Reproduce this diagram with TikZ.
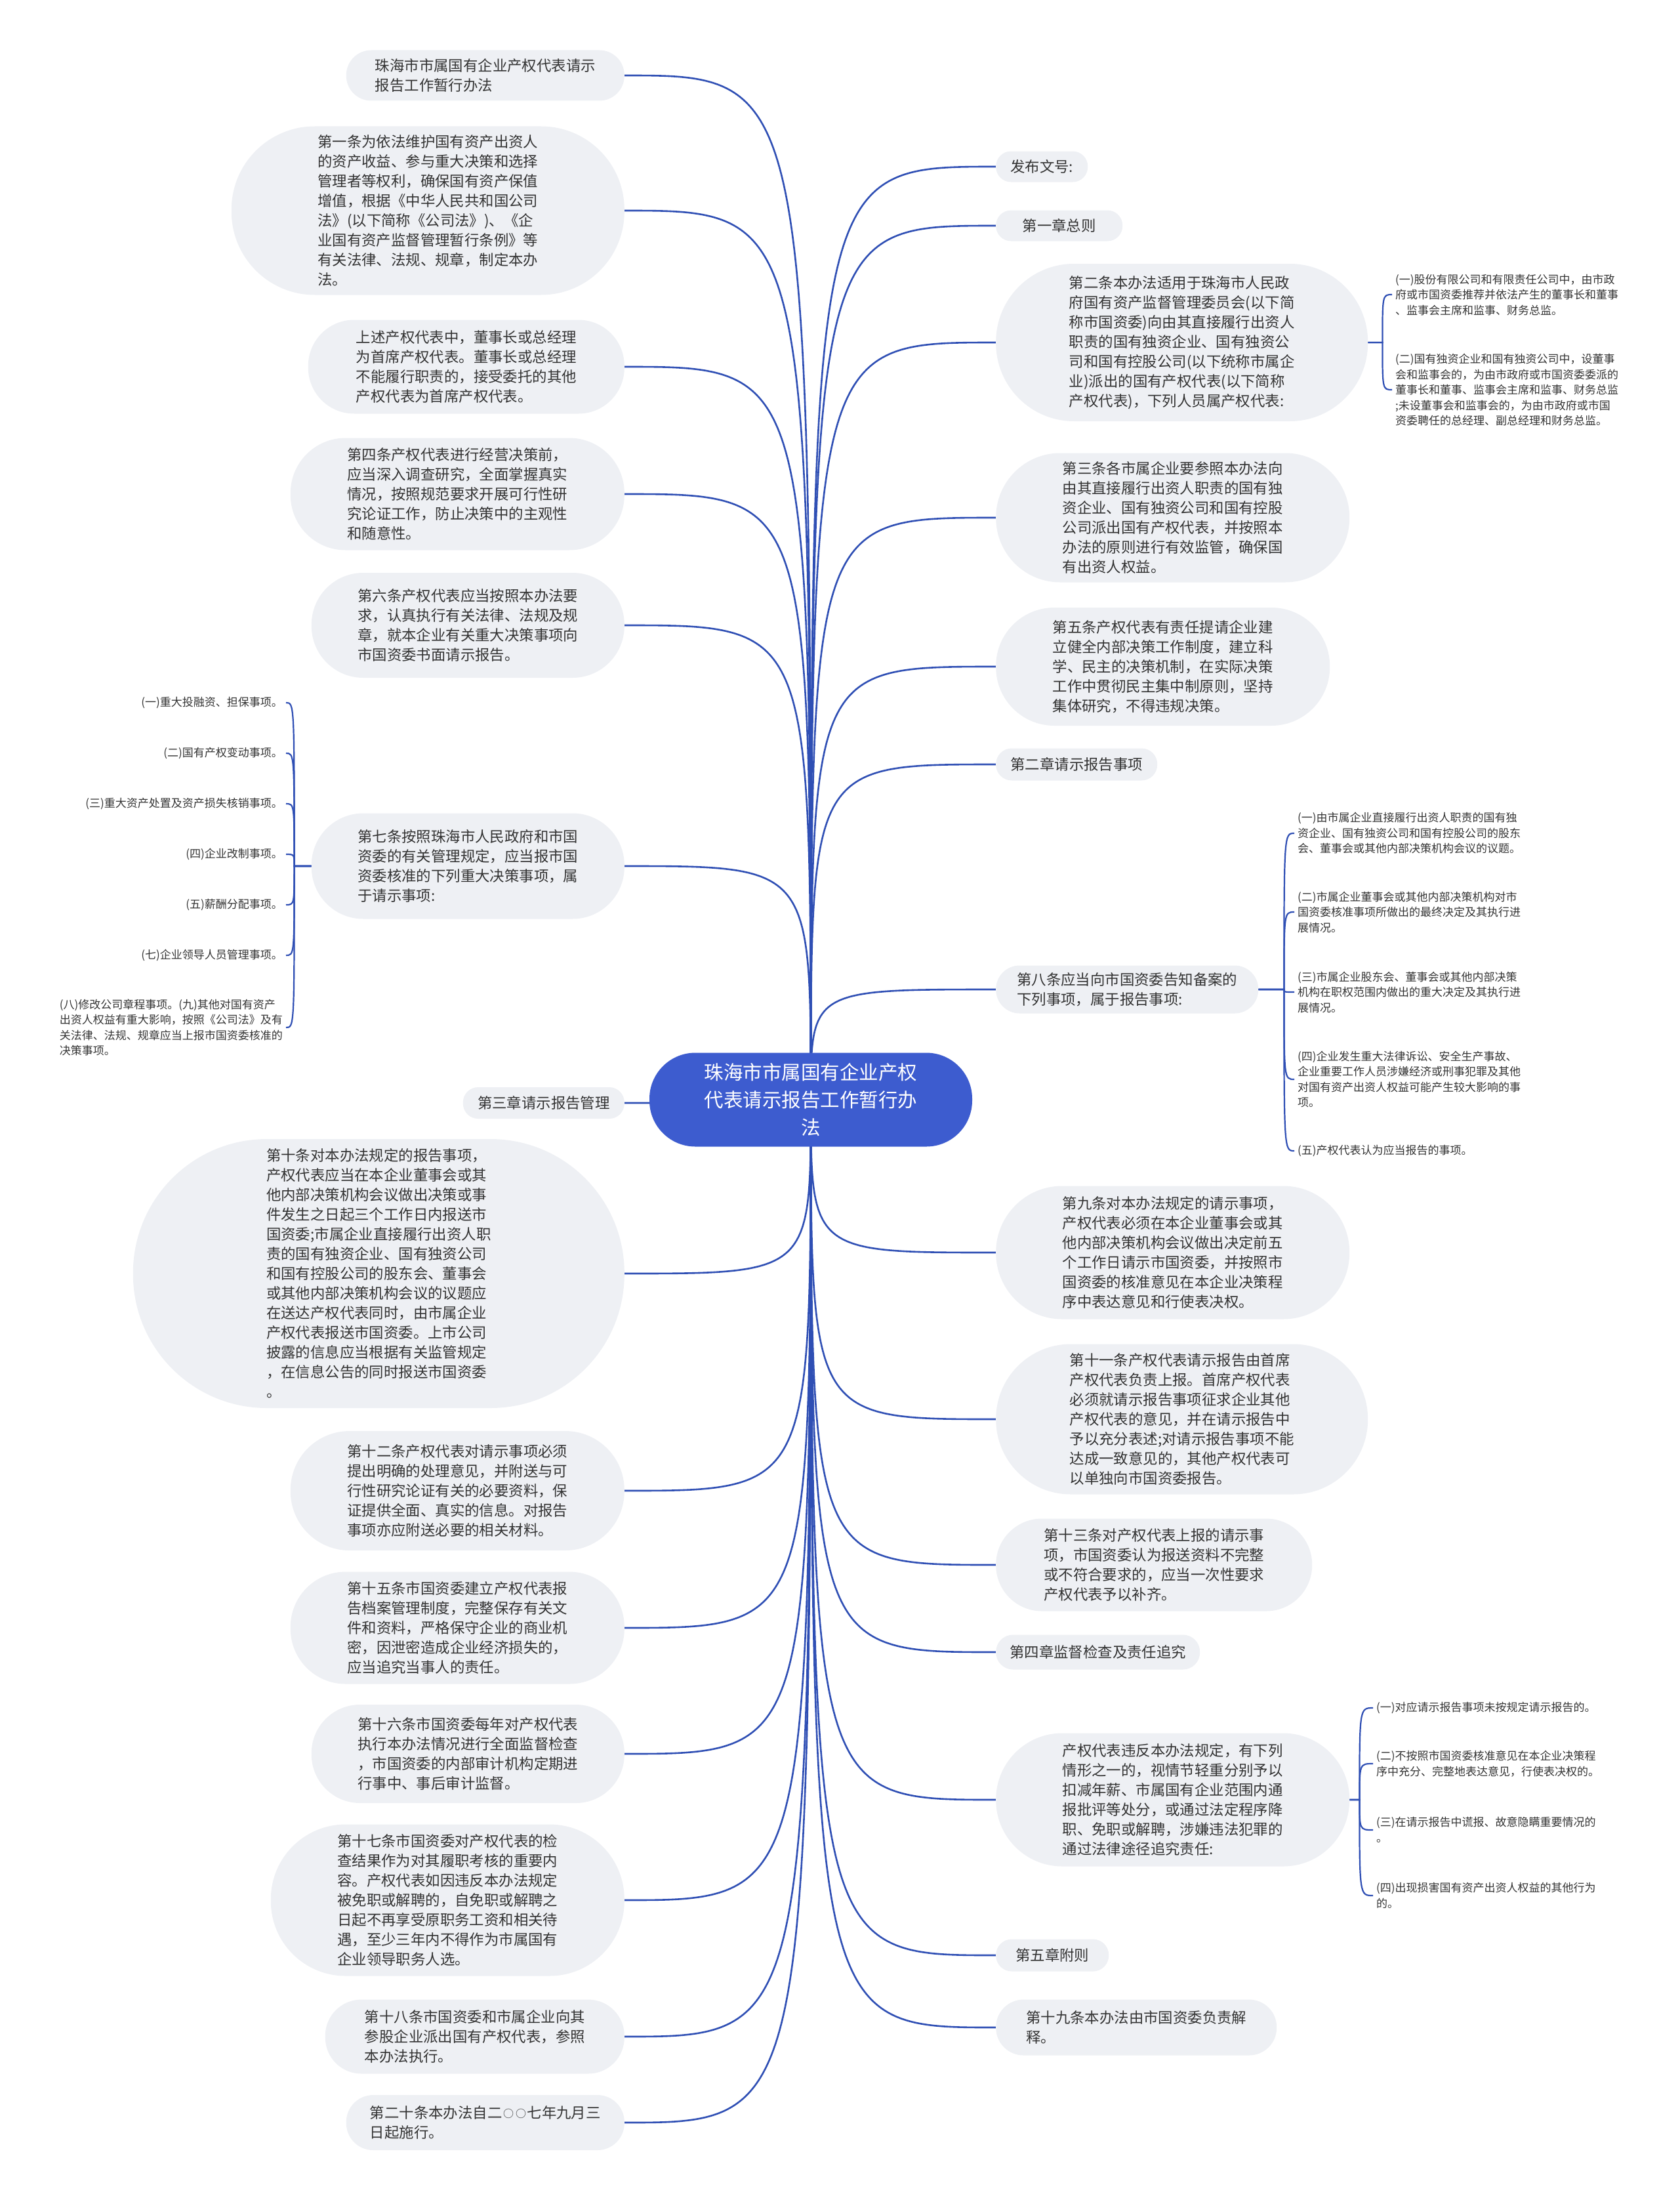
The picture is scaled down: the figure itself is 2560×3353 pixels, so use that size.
\documentclass[tikz,border=0pt]{standalone}
\usepackage{fontspec}
\newfontfamily\cjk{Noto Sans CJK SC}
\usepackage{tikz}
\usetikzlibrary{positioning,backgrounds,calc}
\usepackage{xcolor}
\definecolor{nodegray}{HTML}{EEF0F4}
\definecolor{inkgray}{HTML}{333333}
\definecolor{linkblue}{HTML}{2F4FB4}
\definecolor{rootblue}{HTML}{3D5CCF}
\newcommand{\ringzero}{\makebox[0.85em]{\fontsize{16}{16}\selectfont\raisebox{1pt}{○}}}

\begin{document}
\begin{tikzpicture}[
    x=1pt, y=-1pt,
    root/.style={rectangle, fill=rootblue, text=white, align=center,
        font=\cjk\fontsize{29.5}{42}\selectfont,
        minimum width=492pt, minimum height=143pt, rounded corners=70pt},
    topic/.style={rectangle, fill=nodegray, text=inkgray, align=left,
        font=\cjk\fontsize{22.4}{30}\selectfont, inner sep=0pt},
    leaf/.style={text=inkgray, align=left, inner xsep=5pt, inner ysep=2pt,
        font=\cjk\fontsize{17}{23.5}\selectfont},
    branch/.style={draw=linkblue, line width=2.6pt},
    twig/.style={draw=linkblue, line width=2.2pt}
]
\useasboundingbox (0,0) rectangle (2560,3353);

% Root
\node[root] (root) at (1236,1676) {珠海市市属国有企业产权\\代表请示报告工作暂行办\\法};

% Left branches
\node[topic, anchor=east, minimum width=424pt, minimum height=77pt, rounded corners=38pt] (title) at (952,115) {珠海市市属国有企业产权代表请示\\报告工作暂行办法};
\node[topic, anchor=east, minimum width=599pt, minimum height=257pt, rounded corners=127pt] (art1) at (952,321) {第一条为依法维护国有资产出资人\\的资产收益、参与重大决策和选择\\管理者等权利，确保国有资产保值\\增值，根据《中华人民共和国公司\\法》(以下简称《公司法》)、《企\\业国有资产监督管理暂行条例》等\\有关法律、法规、规章，制定本办\\法。};
\node[topic, anchor=east, minimum width=482pt, minimum height=143pt, rounded corners=70pt] (chief) at (952,559) {上述产权代表中，董事长或总经理\\为首席产权代表。董事长或总经理\\不能履行职责的，接受委托的其他\\产权代表为首席产权代表。};
\node[topic, anchor=east, minimum width=509pt, minimum height=171pt, rounded corners=84pt] (art4) at (952,753) {第四条产权代表进行经营决策前，\\应当深入调查研究，全面掌握真实\\情况，按照规范要求开展可行性研\\究论证工作，防止决策中的主观性\\和随意性。};
\node[topic, anchor=east, minimum width=477pt, minimum height=160pt, rounded corners=79pt] (art6) at (952,953) {第六条产权代表应当按照本办法要\\求，认真执行有关法律、法规及规\\章，就本企业有关重大决策事项向\\市国资委书面请示报告。};
\node[topic, anchor=east, minimum width=477pt, minimum height=161pt, rounded corners=79pt] (art7) at (952,1320) {第七条按照珠海市人民政府和市国\\资委的有关管理规定，应当报市国\\资委核准的下列重大决策事项，属\\于请示事项:};
\node[topic, anchor=east, minimum width=246pt, minimum height=48pt, rounded corners=23pt] (ch3) at (952,1681) {第三章请示报告管理};
\node[topic, anchor=east, minimum width=749pt, minimum height=410pt, rounded corners=204pt] (art10) at (952,1941) {第十条对本办法规定的报告事项，\\产权代表应当在本企业董事会或其\\他内部决策机构会议做出决策或事\\件发生之日起三个工作日内报送市\\国资委;市属企业直接履行出资人职\\责的国有独资企业、国有独资公司\\和国有控股公司的股东会、董事会\\或其他内部决策机构会议的议题应\\在送达产权代表同时，由市属企业\\产权代表报送市国资委。上市公司\\披露的信息应当根据有关监管规定\\，在信息公告的同时报送市国资委\\。};
\node[topic, anchor=east, minimum width=509pt, minimum height=182pt, rounded corners=90pt] (art12) at (952,2272) {第十二条产权代表对请示事项必须\\提出明确的处理意见，并附送与可\\行性研究论证有关的必要资料，保\\证提供全面、真实的信息。对报告\\事项亦应附送必要的相关材料。};
\node[topic, anchor=east, minimum width=509pt, minimum height=171pt, rounded corners=84pt] (art15) at (952,2481) {第十五条市国资委建立产权代表报\\告档案管理制度，完整保存有关文\\件和资料，严格保守企业的商业机\\密，因泄密造成企业经济损失的，\\应当追究当事人的责任。};
\node[topic, anchor=east, minimum width=477pt, minimum height=150pt, rounded corners=74pt] (art16) at (952,2673) {第十六条市国资委每年对产权代表\\执行本办法情况进行全面监督检查\\，市国资委的内部审计机构定期进\\行事中、事后审计监督。};
\node[topic, anchor=east, minimum width=539pt, minimum height=231pt, rounded corners=114pt] (art17) at (952,2896) {第十七条市国资委对产权代表的检\\查结果作为对其履职考核的重要内\\容。产权代表如因违反本办法规定\\被免职或解聘的，自免职或解聘之\\日起不再享受原职务工资和相关待\\遇，至少三年内不得作为市属国有\\企业领导职务人选。};
\node[topic, anchor=east, minimum width=456pt, minimum height=113pt, rounded corners=55pt] (art18) at (952,3104) {第十八条市国资委和市属企业向其\\参股企业派出国有产权代表，参照\\本办法执行。};
\node[topic, anchor=east, minimum width=424pt, minimum height=84pt, rounded corners=41pt] (art20) at (952,3235) {第二十条本办法自二\ringzero\ringzero 七年九月三\\日起施行。};

% Items of article 7
\node[leaf, anchor=east] (art7a) at (436,1071) {(一)重大投融资、担保事项。};
\node[leaf, anchor=east] (art7b) at (436,1148) {(二)国有产权变动事项。};
\node[leaf, anchor=east] (art7c) at (436,1225) {(三)重大资产处置及资产损失核销事项。};
\node[leaf, anchor=east] (art7d) at (436,1302) {(四)企业改制事项。};
\node[leaf, anchor=east] (art7e) at (436,1379) {(五)薪酬分配事项。};
\node[leaf, anchor=east] (art7f) at (436,1456) {(七)企业领导人员管理事项。};
\node[leaf, anchor=east] (art7g) at (436,1566) {(八)修改公司章程事项。(九)其他对国有资产\\出资人权益有重大影响，按照《公司法》及有\\关法律、法规、规章应当上报市国资委核准的\\决策事项。};

% Right branches
\node[topic, anchor=west, minimum width=140pt, minimum height=47pt, rounded corners=23pt] (fawen) at (1518,254) {发布文号:};
\node[topic, anchor=west, minimum width=193pt, minimum height=47pt, rounded corners=23pt] (ch1) at (1518,344) {第一章总则};
\node[topic, anchor=west, minimum width=567pt, minimum height=240pt, rounded corners=119pt] (art2) at (1518,522) {第二条本办法适用于珠海市人民政\\府国有资产监督管理委员会(以下简\\称市国资委)向由其直接履行出资人\\职责的国有独资企业、国有独资公\\司和国有控股公司(以下统称市属企\\业)派出的国有产权代表(以下简称\\产权代表)，下列人员属产权代表:};
\node[topic, anchor=west, minimum width=539pt, minimum height=197pt, rounded corners=98pt] (art3) at (1518,789) {第三条各市属企业要参照本办法向\\由其直接履行出资人职责的国有独\\资企业、国有独资公司和国有控股\\公司派出国有产权代表，并按照本\\办法的原则进行有效监管，确保国\\有出资人权益。};
\node[topic, anchor=west, minimum width=509pt, minimum height=180pt, rounded corners=89pt] (art5) at (1518,1016) {第五条产权代表有责任提请企业建\\立健全内部决策工作制度，建立科\\学、民主的决策机制，在实际决策\\工作中贯彻民主集中制原则，坚持\\集体研究，不得违规决策。};
\node[topic, anchor=west, minimum width=246pt, minimum height=49pt, rounded corners=24pt] (ch2) at (1518,1165) {第二章请示报告事项};
\node[topic, anchor=west, minimum width=400pt, minimum height=73pt, rounded corners=36pt] (art8) at (1518,1508) {第八条应当向市国资委告知备案的\\下列事项，属于报告事项:};
\node[topic, anchor=west, minimum width=539pt, minimum height=203pt, rounded corners=101pt] (art9) at (1518,1909) {第九条对本办法规定的请示事项，\\产权代表必须在本企业董事会或其\\他内部决策机构会议做出决定前五\\个工作日请示市国资委，并按照市\\国资委的核准意见在本企业决策程\\序中表达意见和行使表决权。};
\node[topic, anchor=west, minimum width=567pt, minimum height=229pt, rounded corners=114pt] (art11) at (1518,2163) {第十一条产权代表请示报告由首席\\产权代表负责上报。首席产权代表\\必须就请示报告事项征求企业其他\\产权代表的意见，并在请示报告中\\予以充分表述;对请示报告事项不能\\达成一致意见的，其他产权代表可\\以单独向市国资委报告。};
\node[topic, anchor=west, minimum width=482pt, minimum height=141pt, rounded corners=70pt] (art13) at (1518,2385) {第十三条对产权代表上报的请示事\\项，市国资委认为报送资料不完整\\或不符合要求的，应当一次性要求\\产权代表予以补齐。};
\node[topic, anchor=west, minimum width=311pt, minimum height=53pt, rounded corners=26pt] (ch4) at (1518,2518) {第四章监督检查及责任追究};
\node[topic, anchor=west, minimum width=539pt, minimum height=203pt, rounded corners=101pt] (penalty) at (1518,2743) {产权代表违反本办法规定，有下列\\情形之一的，视情节轻重分别予以\\扣减年薪、市属国有企业范围内通\\报批评等处分，或通过法定程序降\\职、免职或解聘，涉嫌违法犯罪的\\通过法律途径追究责任:};
\node[topic, anchor=west, minimum width=172pt, minimum height=49pt, rounded corners=24pt] (ch5) at (1518,2980) {第五章附则};
\node[topic, anchor=west, minimum width=428pt, minimum height=85pt, rounded corners=42pt] (art19) at (1518,3090) {第十九条本办法由市国资委负责解\\释。};

% Items of article 2
\node[leaf, anchor=west] (art2a) at (2122,449) {(一)股份有限公司和有限责任公司中，由市政\\府或市国资委推荐并依法产生的董事长和董事\\、监事会主席和监事、财务总监。};
\node[leaf, anchor=west] (art2b) at (2122,594) {(二)国有独资企业和国有独资公司中，设董事\\会和监事会的，为由市政府或市国资委委派的\\董事长和董事、监事会主席和监事、财务总监\\;未设董事会和监事会的，为由市政府或市国\\资委聘任的总经理、副总经理和财务总监。};

% Items of article 8
\node[leaf, anchor=west] (art8a) at (1973,1270) {(一)由市属企业直接履行出资人职责的国有独\\资企业、国有独资公司和国有控股公司的股东\\会、董事会或其他内部决策机构会议的议题。};
\node[leaf, anchor=west] (art8b) at (1973,1390) {(二)市属企业董事会或其他内部决策机构对市\\国资委核准事项所做出的最终决定及其执行进\\展情况。};
\node[leaf, anchor=west] (art8c) at (1973,1512) {(三)市属企业股东会、董事会或其他内部决策\\机构在职权范围内做出的重大决定及其执行进\\展情况。};
\node[leaf, anchor=west] (art8d) at (1973,1645) {(四)企业发生重大法律诉讼、安全生产事故、\\企业重要工作人员涉嫌经济或刑事犯罪及其他\\对国有资产出资人权益可能产生较大影响的事\\项。};
\node[leaf, anchor=west] (art8e) at (1973,1754) {(五)产权代表认为应当报告的事项。};

% Items of the penalty clause
\node[leaf, anchor=west] (pen1) at (2093,2603) {(一)对应请示报告事项未按规定请示报告的。};
\node[leaf, anchor=west] (pen2) at (2093,2688) {(二)不按照市国资委核准意见在本企业决策程\\序中充分、完整地表达意见，行使表决权的。};
\node[leaf, anchor=west] (pen3) at (2093,2789) {(三)在请示报告中谎报、故意隐瞒重要情况的\\。};
\node[leaf, anchor=west] (pen4) at (2093,2889) {(四)出现损害国有资产出资人权益的其他行为\\的。};

% Bracket joints
\coordinate[left=26pt of art7.west] (art7j);
\coordinate[right=22pt of art2.east] (art2j);
\coordinate[right=39pt of art8.east] (art8j);
\coordinate[right=15pt of penalty.east] (penj);

% Connectors
\begin{scope}[on background layer]
\draw[branch] (root.center) .. controls (root.center |- title.east) .. (title.east);
\draw[branch] (root.center) .. controls (root.center |- art1.east) .. (art1.east);
\draw[branch] (root.center) .. controls (root.center |- chief.east) .. (chief.east);
\draw[branch] (root.center) .. controls (root.center |- art4.east) .. (art4.east);
\draw[branch] (root.center) .. controls (root.center |- art6.east) .. (art6.east);
\draw[branch] (root.center) .. controls (root.center |- art7.east) .. (art7.east);
\draw[branch] (root.center) .. controls (root.center |- ch3.east) .. (ch3.east);
\draw[branch] (root.center) .. controls (root.center |- art10.east) .. (art10.east);
\draw[branch] (root.center) .. controls (root.center |- art12.east) .. (art12.east);
\draw[branch] (root.center) .. controls (root.center |- art15.east) .. (art15.east);
\draw[branch] (root.center) .. controls (root.center |- art16.east) .. (art16.east);
\draw[branch] (root.center) .. controls (root.center |- art17.east) .. (art17.east);
\draw[branch] (root.center) .. controls (root.center |- art18.east) .. (art18.east);
\draw[branch] (root.center) .. controls (root.center |- art20.east) .. (art20.east);

\draw[branch] (root.center) .. controls (root.center |- fawen.west) .. (fawen.west);
\draw[branch] (root.center) .. controls (root.center |- ch1.west) .. (ch1.west);
\draw[branch] (root.center) .. controls (root.center |- art2.west) .. (art2.west);
\draw[branch] (root.center) .. controls (root.center |- art3.west) .. (art3.west);
\draw[branch] (root.center) .. controls (root.center |- art5.west) .. (art5.west);
\draw[branch] (root.center) .. controls (root.center |- ch2.west) .. (ch2.west);
\draw[branch] (root.center) .. controls (root.center |- art8.west) .. (art8.west);
\draw[branch] (root.center) .. controls (root.center |- art9.west) .. (art9.west);
\draw[branch] (root.center) .. controls (root.center |- art11.west) .. (art11.west);
\draw[branch] (root.center) .. controls (root.center |- art13.west) .. (art13.west);
\draw[branch] (root.center) .. controls (root.center |- ch4.west) .. (ch4.west);
\draw[branch] (root.center) .. controls (root.center |- penalty.west) .. (penalty.west);
\draw[branch] (root.center) .. controls (root.center |- ch5.west) .. (ch5.west);
\draw[branch] (root.center) .. controls (root.center |- art19.west) .. (art19.west);

% Brackets to the items
\draw[twig] (art7.west) -- (art7j) .. controls (art7j |- art7a.east) .. (art7a.east);
\draw[twig] (art7.west) -- (art7j) .. controls (art7j |- art7b.east) .. (art7b.east);
\draw[twig] (art7.west) -- (art7j) .. controls (art7j |- art7c.east) .. (art7c.east);
\draw[twig] (art7.west) -- (art7j) .. controls (art7j |- art7d.east) .. (art7d.east);
\draw[twig] (art7.west) -- (art7j) .. controls (art7j |- art7e.east) .. (art7e.east);
\draw[twig] (art7.west) -- (art7j) .. controls (art7j |- art7f.east) .. (art7f.east);
\draw[twig] (art7.west) -- (art7j) .. controls (art7j |- art7g.east) .. (art7g.east);

\draw[twig] (art2.east) -- (art2j) .. controls (art2j |- art2a.west) .. (art2a.west);
\draw[twig] (art2.east) -- (art2j) .. controls (art2j |- art2b.west) .. (art2b.west);

\draw[twig] (art8.east) -- (art8j) .. controls (art8j |- art8a.west) .. (art8a.west);
\draw[twig] (art8.east) -- (art8j) .. controls (art8j |- art8b.west) .. (art8b.west);
\draw[twig] (art8.east) -- (art8j) .. controls (art8j |- art8c.west) .. (art8c.west);
\draw[twig] (art8.east) -- (art8j) .. controls (art8j |- art8d.west) .. (art8d.west);
\draw[twig] (art8.east) -- (art8j) .. controls (art8j |- art8e.west) .. (art8e.west);

\draw[twig] (penalty.east) -- (penj) .. controls (penj |- pen1.west) .. (pen1.west);
\draw[twig] (penalty.east) -- (penj) .. controls (penj |- pen2.west) .. (pen2.west);
\draw[twig] (penalty.east) -- (penj) .. controls (penj |- pen3.west) .. (pen3.west);
\draw[twig] (penalty.east) -- (penj) .. controls (penj |- pen4.west) .. (pen4.west);
\end{scope}

\end{tikzpicture}
\end{document}
